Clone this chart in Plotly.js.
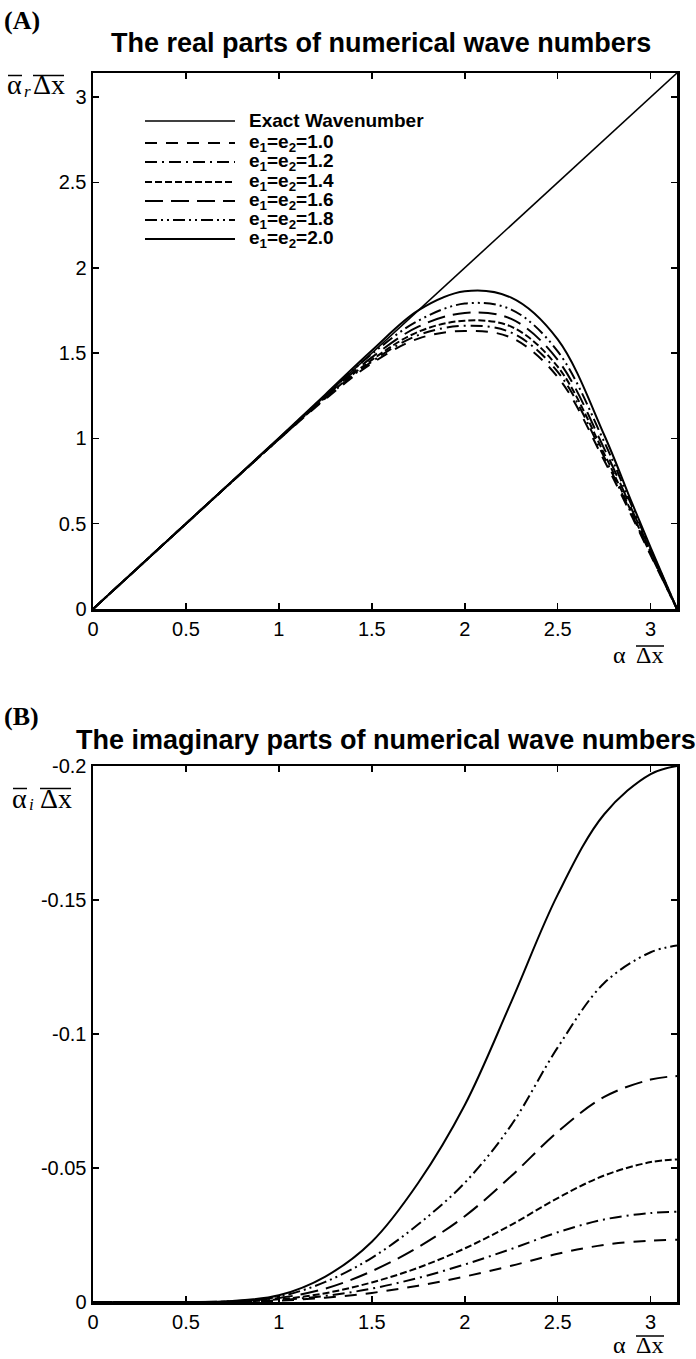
<!DOCTYPE html>
<html>
<head>
<meta charset="utf-8">
<script src="https://cdn.plot.ly/plotly-3.0.1.min.js"></script>
<style>
  html, body { margin: 0; padding: 0; background: #fff; }
  #chart { width: 696px; height: 1359px; }
</style>
</head>
<body>
<div id="chart"></div>
<script>
// Scheme parameters e1 = e2 for each numerical curve
const E_VALUES = [1.0, 1.2, 1.4, 1.6, 1.8, 2.0];
const LEGEND_LABELS = ['1.0', '1.2', '1.4', '1.6', '1.8', '2.0'];

// Exact wavenumber (diagonal line)
const EXACT_X = [0, Math.PI];
const EXACT_Y = [0, Math.PI];

// (A) real parts, sampled at these alpha*dx values
const XA = [0, 0.5, 1.0, 1.25, 1.5, 1.75, 2.0, 2.25, 2.5, 2.75, 2.9, 3.0, Math.PI];
const REAL_E10 = [0, 0.5, 0.994, 1.230, 1.440, 1.585, 1.630, 1.590, 1.360, 0.870, 0.540, 0.315, 0];
const REAL_E12 = [0, 0.5, 0.995, 1.235, 1.450, 1.605, 1.660, 1.620, 1.390, 0.890, 0.550, 0.320, 0];
const REAL_E14 = [0, 0.5, 0.996, 1.240, 1.460, 1.625, 1.690, 1.655, 1.420, 0.910, 0.560, 0.330, 0];
const REAL_E16 = [0, 0.5, 0.998, 1.245, 1.475, 1.655, 1.735, 1.700, 1.460, 0.940, 0.580, 0.340, 0];
const REAL_E18 = [0, 0.5, 1.000, 1.252, 1.495, 1.690, 1.790, 1.755, 1.510, 0.980, 0.600, 0.350, 0];
const REAL_E20 = [0, 0.5, 1.003, 1.258, 1.515, 1.750, 1.862, 1.825, 1.580, 1.020, 0.620, 0.360, 0];

// (B) imaginary parts
const XB = [0, 0.5, 0.75, 1.0, 1.25, 1.5, 1.75, 2.0, 2.25, 2.5, 2.75, 3.0, Math.PI];
const IMAG_E10 = [0, 0, -0.0001, -0.0005, -0.0016, -0.0034, -0.0061, -0.0095, -0.0135, -0.0180, -0.0213, -0.0229, -0.0232];
const IMAG_E12 = [0, 0, -0.0001, -0.0007, -0.0023, -0.0050, -0.0090, -0.0140, -0.0198, -0.0260, -0.0308, -0.0332, -0.0337];
const IMAG_E14 = [0, 0, -0.0001, -0.0010, -0.0033, -0.0073, -0.0128, -0.0200, -0.0288, -0.0388, -0.0472, -0.0522, -0.0532];
const IMAG_E16 = [0, 0, -0.0002, -0.0015, -0.0050, -0.0115, -0.0205, -0.0320, -0.0470, -0.0635, -0.0765, -0.0830, -0.0843];
const IMAG_E18 = [0, 0, -0.0003, -0.0020, -0.0075, -0.0165, -0.0290, -0.0445, -0.0660, -0.0950, -0.1190, -0.1305, -0.1330];
const IMAG_E20 = [0, 0, -0.0004, -0.0025, -0.0095, -0.0225, -0.0445, -0.0735, -0.1120, -0.1520, -0.1820, -0.1970, -0.2000];

// Axis ticks
const X_TICKS = [0, 0.5, 1, 1.5, 2, 2.5, 3];
const X_TICK_TEXT = ['0', '0.5', '1', '1.5', '2', '2.5', '3'];
const YA_TICKS = [0, 0.5, 1, 1.5, 2, 2.5, 3];
const YA_TICK_TEXT = ['0', '0.5', '1', '1.5', '2', '2.5', '3'];
const YB_TICKS = [0, -0.05, -0.1, -0.15, -0.2];
const YB_TICK_TEXT = ['0', '-0.05', '-0.1', '-0.15', '-0.2'];

const REAL_SERIES = [REAL_E10, REAL_E12, REAL_E14, REAL_E16, REAL_E18, REAL_E20];
const IMAG_SERIES = [IMAG_E10, IMAG_E12, IMAG_E14, IMAG_E16, IMAG_E18, IMAG_E20];

// line style per e value: dash, dash-dot, short dash, long dash, dash-dot-dot, solid
const DASHES = ['12px,9px', '12px,5px,2px,5px', '7px,3px', '18px,8px', '12px,4px,2px,4px,2px,4px', 'solid'];
const LINE_W = 2;

// page geometry
const W = 696, H = 1359;
const M = { l: 93, r: 19, t: 73, b: 57 };
const PW = W - M.l - M.r, PH = H - M.t - M.b;
const fx = px => (px - M.l) / PW;
const fy = py => (H - M.b - py) / PH;

const traces = [];
traces.push({
  x: EXACT_X, y: EXACT_Y, xaxis: 'x', yaxis: 'y', mode: 'lines',
  line: { color: '#000', width: 1.6 }, hoverinfo: 'skip'
});
REAL_SERIES.forEach((ys, i) => {
  traces.push({
    x: XA, y: ys, xaxis: 'x', yaxis: 'y', mode: 'lines',
    line: { color: '#000', width: LINE_W, dash: DASHES[i], shape: 'spline', smoothing: 1 },
    hoverinfo: 'skip'
  });
});
IMAG_SERIES.forEach((ys, i) => {
  traces.push({
    x: XB, y: ys, xaxis: 'x2', yaxis: 'y2', mode: 'lines',
    line: { color: '#000', width: LINE_W, dash: DASHES[i], shape: 'spline', smoothing: 1 },
    hoverinfo: 'skip'
  });
});

const tickFont = { family: 'Liberation Sans, Arial, sans-serif', size: 20, color: '#000' };
const axisBase = {
  showline: true, linecolor: '#000', linewidth: 2.5, mirror: 'ticks',
  ticks: 'inside', ticklen: 6, tickwidth: 1.5, tickcolor: '#000',
  showgrid: false, zeroline: false, tickfont: tickFont, fixedrange: true
};

const yTopA = fy(73), yBotA = fy(609);
const yTopB = fy(766);

const serif = 'Liberation Serif, DejaVu Serif, serif';
const sansBold = 'Liberation Sans, Arial, sans-serif';
const annotations = [];
const shapes = [];

function text(str, px, py, size, family, anchor) {
  annotations.push({ text: str, x: fx(px), y: fy(py), xanchor: anchor || 'left', yanchor: 'middle',
    font: { family: family, size: size, color: '#000' } });
}
function overline(px0, px1, py) {
  shapes.push({ type: 'line', xref: 'paper', yref: 'paper', x0: fx(px0), x1: fx(px1), y0: fy(py), y1: fy(py),
    line: { color: '#000', width: 1.5 } });
}

// panel letters and titles
text('<b>(A)</b>', 2, 20, 26, serif);
text('<b>The real parts of numerical wave numbers</b>', 381, 43, 27, sansBold, 'center');
text('<b>(B)</b>', 2, 717, 26, serif);
text('<b>The imaginary parts of numerical wave numbers</b>', 386, 740, 27, sansBold, 'center');

// y-axis label of (A): overlined alpha_r and overlined Delta x
text('α', 5, 85, 28, serif);
text('<i>r</i>', 22, 91, 17, serif);
text('Δx', 31, 85, 28, serif);
overline(8, 22, 75.5);
overline(33, 64, 75.5);

// y-axis label of (B)
text('α', 10, 798, 28, serif);
text('<i>i</i>', 27, 804, 17, serif);
text('Δx', 38, 798, 28, serif);
overline(13, 27, 788.5);
overline(40, 71, 788.5);

// x-axis labels
text('α', 611, 655, 24, serif);
text('Δx', 634, 655, 24, serif);
overline(636, 664, 646);
text('α', 611, 1345, 24, serif);
text('Δx', 634, 1345, 24, serif);
overline(636, 664, 1336);

// legend block inside panel (A)
const legendRows = [121, 143, 162, 182, 201, 220, 239];
const legendNames = ['Exact Wavenumber'].concat(LEGEND_LABELS.map(v => 'e<sub>1</sub>=e<sub>2</sub>=' + v));
const legendDashes = ['solid'].concat(DASHES);
legendNames.forEach((name, i) => {
  shapes.push({
    type: 'line', xref: 'paper', yref: 'paper',
    x0: fx(145), x1: fx(235), y0: fy(legendRows[i]), y1: fy(legendRows[i]),
    line: { color: '#000', width: i === 0 ? 1.6 : LINE_W, dash: legendDashes[i] }
  });
  text('<b>' + name + '</b>', 247, legendRows[i], 19, sansBold);
});
annotations.forEach(a => { a.xref = 'paper'; a.yref = 'paper'; a.showarrow = false; });

const layout = {
  width: W, height: H, margin: M,
  paper_bgcolor: '#fff', plot_bgcolor: '#fff', showlegend: false,
  xaxis: Object.assign({}, axisBase, { domain: [0, 1], range: [0, Math.PI], tickvals: X_TICKS, ticktext: X_TICK_TEXT, anchor: 'y' }),
  yaxis: Object.assign({}, axisBase, { domain: [yBotA, yTopA], range: [0, Math.PI], tickvals: YA_TICKS, ticktext: YA_TICK_TEXT, anchor: 'x' }),
  xaxis2: Object.assign({}, axisBase, { domain: [0, 1], range: [0, Math.PI], tickvals: X_TICKS, ticktext: X_TICK_TEXT, anchor: 'y2' }),
  yaxis2: Object.assign({}, axisBase, { domain: [0, yTopB], range: [0, -0.2], tickvals: YB_TICKS, ticktext: YB_TICK_TEXT, anchor: 'x2' }),
  annotations: annotations,
  shapes: shapes
};

Plotly.newPlot('chart', traces, layout, { staticPlot: true, displayModeBar: false });
</script>
</body>
</html>
